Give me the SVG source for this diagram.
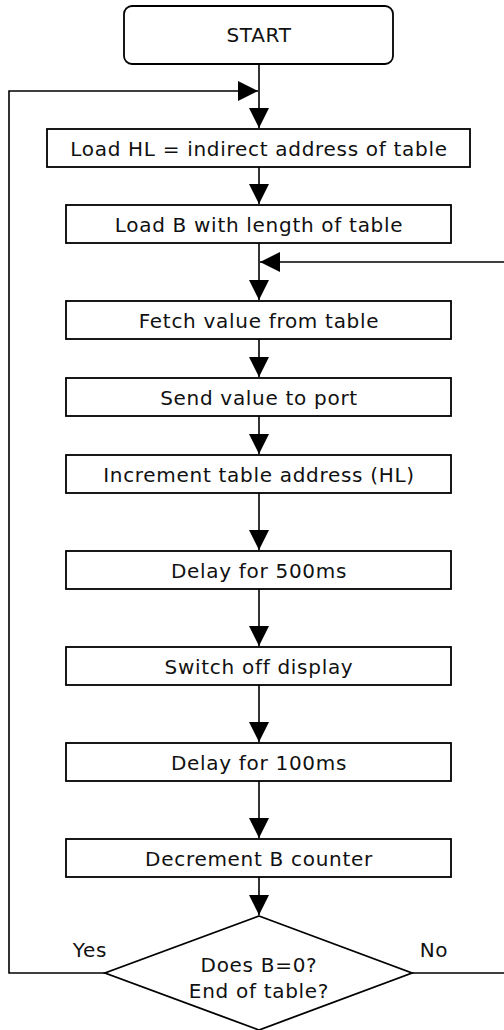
<svg xmlns="http://www.w3.org/2000/svg" width="504" height="1030" viewBox="0 0 504 1030">
<style>
.box{fill:#fff;stroke:#000;stroke-width:1.8}
.t{font-family:"DejaVu Sans","Liberation Sans",sans-serif;font-size:20px;letter-spacing:0.7px;fill:#111;text-anchor:middle}
.c{fill:none;stroke:#000;stroke-width:1.6}
</style>
<defs>
<marker id="ah" markerUnits="userSpaceOnUse" markerWidth="20" markerHeight="20" refX="20" refY="10" orient="auto">
<path d="M0,0 L20,10 L0,20 z" fill="#000"/>
</marker>
</defs>
<rect width="504" height="1030" fill="#fff"/>
<g id="connectors">
<path class="c" d="M259,64 V128" marker-end="url(#ah)"/>
<path class="c" d="M105,973 H9 V91 H258" marker-end="url(#ah)"/>
<path class="c" d="M259,167 V204" marker-end="url(#ah)"/>
<path class="c" d="M259,243 V300" marker-end="url(#ah)"/>
<path class="c" d="M412,973 H507 V262 H260" marker-end="url(#ah)"/>
<path class="c" d="M259,339 V377" marker-end="url(#ah)"/>
<path class="c" d="M259,416 V454" marker-end="url(#ah)"/>
<path class="c" d="M259,493 V550" marker-end="url(#ah)"/>
<path class="c" d="M259,589 V646" marker-end="url(#ah)"/>
<path class="c" d="M259,685 V742" marker-end="url(#ah)"/>
<path class="c" d="M259,781 V838" marker-end="url(#ah)"/>
<path class="c" d="M259,877 V915" marker-end="url(#ah)"/>
</g>
<g id="start"><rect class="box" x="124" y="6" width="269" height="58" rx="8"/><text class="t" x="259" y="42">START</text></g>
<g id="n1"><rect class="box" x="47" y="129" width="423" height="38"/><text class="t" x="259" y="156">Load HL = indirect address of table</text></g>
<g id="n2"><rect class="box" x="66" y="205" width="385" height="38"/><text class="t" x="259" y="232">Load B with length of table</text></g>
<g id="n3"><rect class="box" x="66" y="301" width="385" height="38"/><text class="t" x="259" y="328">Fetch value from table</text></g>
<g id="n4"><rect class="box" x="66" y="378" width="385" height="38"/><text class="t" x="259" y="405">Send value to port</text></g>
<g id="n5"><rect class="box" x="66" y="455" width="385" height="38"/><text class="t" x="259" y="482">Increment table address (HL)</text></g>
<g id="n6"><rect class="box" x="66" y="551" width="385" height="38"/><text class="t" x="259" y="578">Delay for 500ms</text></g>
<g id="n7"><rect class="box" x="66" y="647" width="385" height="38"/><text class="t" x="259" y="674">Switch off display</text></g>
<g id="n8"><rect class="box" x="66" y="743" width="385" height="38"/><text class="t" x="259" y="770">Delay for 100ms</text></g>
<g id="n9"><rect class="box" x="66" y="839" width="385" height="38"/><text class="t" x="259" y="866">Decrement B counter</text></g>
<g id="decision">
<polygon class="box" points="259,916 412,973 259,1030 105,973"/>
<text class="t" x="259" y="972">Does B=0?</text>
<text class="t" x="259" y="998">End of table?</text>
<text class="t" x="90" y="957">Yes</text>
<text class="t" x="434" y="957">No</text>
</g>
</svg>
